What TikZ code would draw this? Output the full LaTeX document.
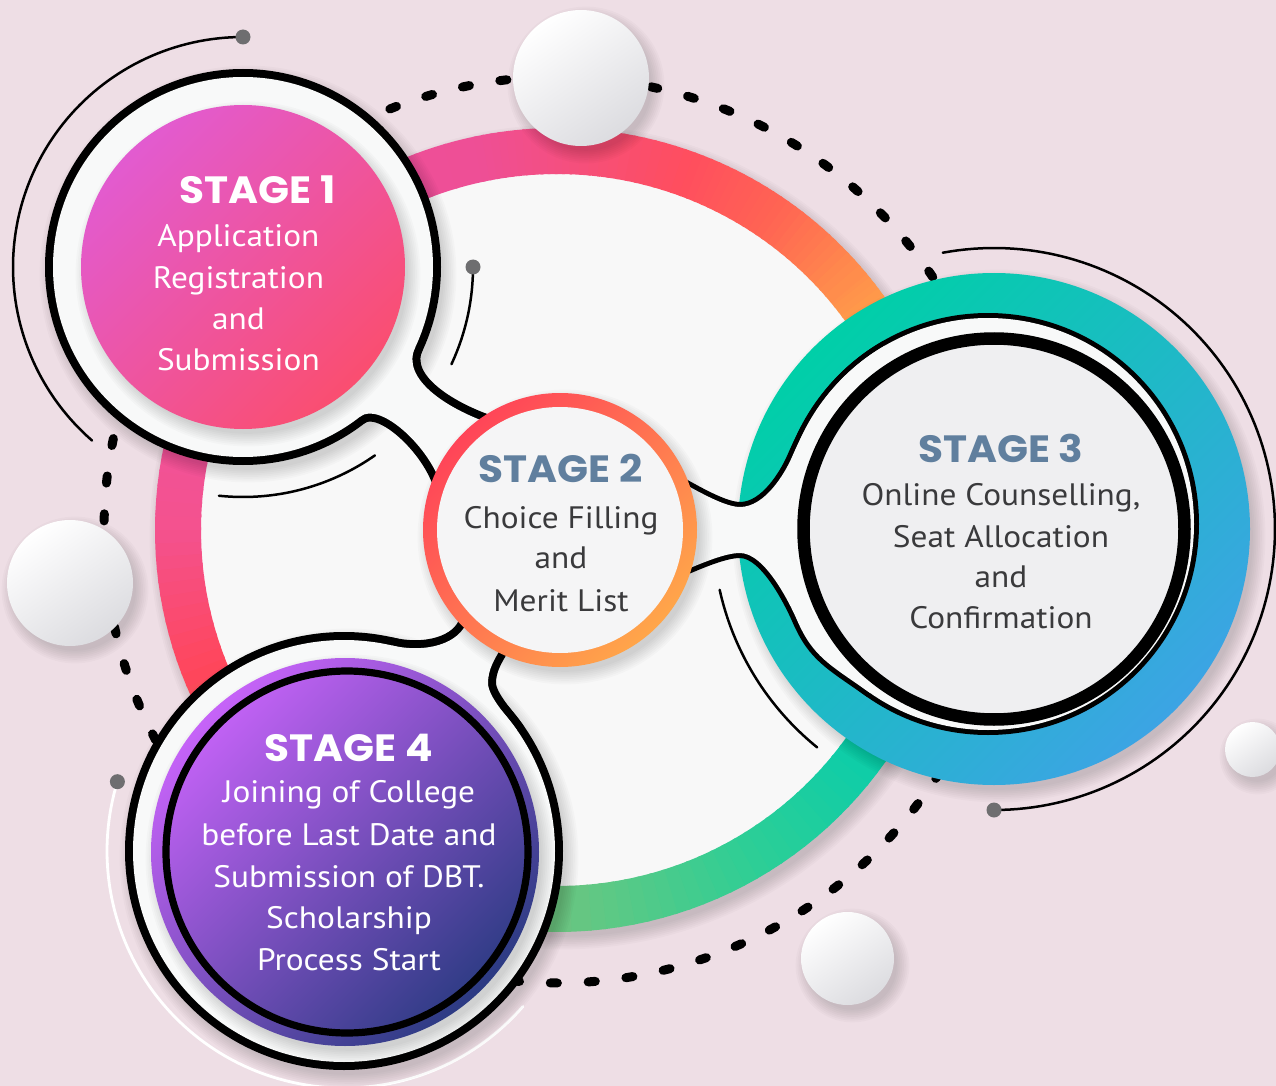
\documentclass[tikz,border=0pt]{standalone}
\usepackage{fontspec}
\setmainfont{PT Sans}[FakeStretch=1.075]
\newfontfamily\headfam{Poppins}[FakeStretch=1.07]
\definecolor{bg}{HTML}{EEDEE5}
\definecolor{innerw}{HTML}{F8F8F8}
\definecolor{blobw}{HTML}{F8F9F9}
\definecolor{s3in}{HTML}{EFEFF1}
\definecolor{s2in}{HTML}{F5F5F6}
\definecolor{dotgray}{HTML}{6E6E70}
\definecolor{ballgray}{HTML}{DCDCE0}
\definecolor{slate}{HTML}{607F9E}
\definecolor{bodygray}{HTML}{3A3A3C}
% big ring keyframes
\definecolor{r1}{HTML}{FF8F4C}
\definecolor{r2}{HTML}{FFAD47}
\definecolor{r3}{HTML}{0ACDAA}
\definecolor{r4}{HTML}{2ECE95}
\definecolor{r5}{HTML}{62C883}
\definecolor{r6}{HTML}{A0A070}
\definecolor{r7}{HTML}{FF4558}
\definecolor{r8}{HTML}{F4528E}
\definecolor{r9}{HTML}{EE51A0}
\definecolor{r10}{HTML}{EE4F96}
\definecolor{r11}{HTML}{F54F7E}
\definecolor{r12}{HTML}{FF4E5E}
\definecolor{r13}{HTML}{FF6553}
% stage colours
\definecolor{pinkA}{HTML}{E25BD0}
\definecolor{pinkB}{HTML}{FA4E70}
\definecolor{purA}{HTML}{C663F8}
\definecolor{purB}{HTML}{2C3B83}
\definecolor{tealA}{HTML}{00CFA8}
\definecolor{tealB}{HTML}{3CA4E4}
\definecolor{orA}{HTML}{FF4558}
\definecolor{orB}{HTML}{FFA64A}
\tikzset{
  thinarc/.style={line width=1.25pt, line cap=round},
  dashline/.style={line width=4.5pt, line cap=round, black},
  body/.style={font=\fontsize{15.5}{20}\selectfont, anchor=base, inner sep=0pt},
  head/.style={font=\headfam\bfseries\fontsize{19}{22}\selectfont, anchor=base, inner sep=0pt},
}
\newcommand{\softshadow}[3]{%
  \foreach \k in {1,...,8}{\fill[black,opacity=0.02] ({#1+5},{#2+7}) circle ({#3-4+\k*1.8});}}
\newcommand{\mkball}[3]{%
  \softshadow{#1}{#2}{#3}%
  \shade[top color=white, bottom color=ballgray, shading angle=35] (#1,#2) circle (#3);}
\begin{document}
\begin{tikzpicture}[x=0.5pt,y=-0.5pt]
\useasboundingbox (0,0) rectangle (1276,1086);
\clip (0,0) rectangle (1276,1086);
\fill[bg] (0,0) rectangle (1276,1086);

% dashed outer circle
\foreach \k in {0,...,74}{
  \pgfmathsetmacro\a{248.8+4.8*\k}
  \draw[dashline] ({557+453*cos(\a-0.45)},{530+453*sin(\a-0.45)}) -- ({557+453*cos(\a+0.45)},{530+453*sin(\a+0.45)});
}

% outer thin arcs
\draw[thinarc] plot[domain=131:270, samples=90] ({243+230*cos(\x)},{267+230*sin(\x)});
\fill[dotgray] (243,37) circle (7.5);
\draw[thinarc] plot[domain=-100.5:90, samples=120] ({994+281*cos(\x)},{529+281*sin(\x)});
\fill[dotgray] (994,810) circle (7.5);
\draw[thinarc, white, line width=1.4pt] plot[domain=41:197, samples=100] ({344+237*cos(\x)},{851+237*sin(\x)});
\fill[dotgray] (117.4,781.7) circle (7.5);

% big white disc
\softshadow{557}{530}{402}
\fill[innerw] (557,530) circle (360);

% big gradient ring
\foreach \a/\b/\ca/\cb in {-40/-28/r1/r2, -28/35/r2/r3, 35/60/r3/r4, 60/85/r4/r5, 85/120/r5/r6, 120/157/r6/r7, 157/180/r7/r8, 180/205/r8/r9, 205/258/r9/r10, 258/272/r10/r11, 272/290/r11/r12, 290/305/r12/r13, 305/320/r13/r1}{
  \foreach \i in {0,...,11}{
    \pgfmathsetmacro\s{\a+(\b-\a)*\i/12}
    \pgfmathsetmacro\e{\a+(\b-\a)*(\i+1)/12+0.4}
    \pgfmathtruncatemacro\p{100-100*(\i+0.5)/12}
    \colorlet{segc}{\ca!\p!\cb}
    \draw[line width=23pt, color=segc] plot[domain=\s:\e, samples=4] ({557+379*cos(\x)},{530+379*sin(\x)});
  }
}

% inner thin arcs
\draw[thinarc] plot[domain=0:25, samples=30] ({243+230*cos(\x)},{267+230*sin(\x)});
\fill[dotgray] (473,267) circle (7.5);
\draw[thinarc] plot[domain=55:96, samples=40] ({243+230*cos(\x)},{267+230*sin(\x)});
\draw[thinarc] plot[domain=129:167.5, samples=40] ({994+281*cos(\x)},{529+281*sin(\x)});

% small balls
\mkball{581}{78}{68}
\mkball{70}{583}{63}
\mkball{1252.5}{749.5}{27.5}
\mkball{847.5}{958.5}{46.5}

% stage 3 teal ring
\softshadow{994}{529}{256}
\shade[top color=tealA, bottom color=tealB, shading angle=45] (994,529) circle (256);

% blob outlines (strokes)
\softshadow{243}{267}{198}
\softshadow{344}{851}{219}
\draw[line width=8pt, line join=round] (243,267) circle (190);
\draw[line width=8pt, line join=round] (415.2,347.3) .. controls (400.4,379) and (447.1,408.5) .. (489.4,423.3) -- (440.3,482.4) .. controls (427.1,444.8) and (379.7,401.3) .. (360,416.7) -- cycle;
\draw[line width=5pt, line join=round] (988,524) circle (206);
\draw[line width=5pt, line join=round] (681.2,482.2) .. controls (699,492) and (725,507) .. (740,507) .. controls (765,507) and (784.8,473.6) .. (792,457) .. controls (808,420.2) and (833,375.6) .. (885,345.6) -- (869.8,692.7) .. controls (828.9,664) and (813,656.8) .. (797,620) .. controls (789.8,603.4) and (765,553) .. (740,553) .. controls (725,553) and (702,563) .. (683.7,570.7) -- cycle;
\draw[line width=8pt, line join=round] (344,851) circle (211);
\draw[line width=8pt, line join=round] (391.5,645.4) .. controls (425.6,653.3) and (459.9,644.2) .. (467.4,620.4) -- (501,648.1) .. controls (495,658.4) and (488,669) .. (488,683) .. controls (488,697) and (508.2,717.7) .. (516.8,730) -- cycle;

% blob fills
\fill[blobw] (243,267) circle (190);
\fill[blobw] (415.2,347.3) .. controls (400.4,379) and (447.1,408.5) .. (489.4,423.3) -- (440.3,482.4) .. controls (427.1,444.8) and (379.7,401.3) .. (360,416.7) -- cycle;
\fill[blobw] (988,524) circle (206);
\fill[blobw] (681.2,482.2) .. controls (699,492) and (725,507) .. (740,507) .. controls (765,507) and (784.8,473.6) .. (792,457) .. controls (808,420.2) and (833,375.6) .. (885,345.6) -- (869.8,692.7) .. controls (828.9,664) and (813,656.8) .. (797,620) .. controls (789.8,603.4) and (765,553) .. (740,553) .. controls (725,553) and (702,563) .. (683.7,570.7) -- cycle;
\fill[blobw] (344,851) circle (211);
\fill[blobw] (391.5,645.4) .. controls (425.6,653.3) and (459.9,644.2) .. (467.4,620.4) -- (501,648.1) .. controls (495,658.4) and (488,669) .. (488,683) .. controls (488,697) and (508.2,717.7) .. (516.8,730) -- cycle;

% stage 1 disc
\softshadow{243}{267}{162}
\shade[top color=pinkA, bottom color=pinkB, shading angle=45] (243,267) circle (162);

% stage 3 inner
\fill[s3in] (994,529) circle (186);
\draw[line width=6.25pt] (994,529) circle (190.5);

% stage 4 disc
\softshadow{345}{852}{194}
\shade[top color=purA, bottom color=purB, shading angle=45] (345,852) circle (194);
\draw[line width=3.6pt] (347,852) circle (181);

% stage 2
\softshadow{560}{530}{137}
\shade[top color=orA, bottom color=orB, shading angle=45] (560,530) circle (137);
\fill[s2in] (560,530) circle (123);

% texts
\node[head, text=white] (h1) at (257.5,203.4) {STAGE 1};
\node[body, text=white] (a1) at (238.4,246.6) {Application};
\node[body, text=white] (a2) at (238.4,288) {Registration};
\node[body, text=white] (a3) at (238.4,329.3) {and};
\node[body, text=white] (a4) at (238.4,370.7) {Submission};

\node[head, text=slate] (h2) at (560.5,482) {STAGE 2};
\node[body, text=bodygray] (b1) at (561,528.3) {Choice Filling};
\node[body, text=bodygray] (b2) at (561,568.3) {and};
\node[body, text=bodygray] (b3) at (561,611) {Merit List};

\node[head, text=slate] (h3) at (1001,462.5) {STAGE 3};
\node[body, text=bodygray] (c1) at (1001,505.5) {Online Counselling,};
\node[body, text=bodygray] (c2) at (1001,547) {Seat Allocation};
\node[body, text=bodygray] (c3) at (1001,587.5) {and};
\node[body, text=bodygray] (c4) at (1001,628.7) {Confirmation};

\node[head, text=white] (h4) at (349,761.7) {STAGE 4};
\node[body, text=white] (d1) at (349,802.7) {Joining of College};
\node[body, text=white] (d2) at (349,845) {before Last Date and};
\node[body, text=white] (d3) at (349,887.3) {Submission of DBT.};
\node[body, text=white] (d4) at (349,928.3) {Scholarship};
\node[body, text=white] (d5) at (349,970.7) {Process Start};
\end{tikzpicture}
\end{document}
